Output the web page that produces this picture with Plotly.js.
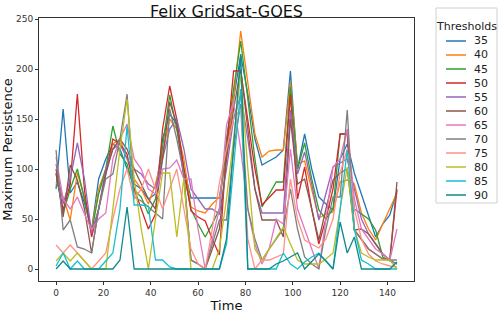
<!DOCTYPE html>
<html>
<head>
<meta charset="utf-8">
<script src="https://cdn.plot.ly/plotly-3.0.1.min.js"></script>
<style>html,body{margin:0;padding:0;background:#fff;}#chart{width:500px;height:313px;}</style>
</head>
<body>
<div id="chart"></div>
<script>
const time = [0,3,6,9,12,15,18,21,24,27,30,33,36,39,42,45,48,51,54,57,60,63,66,69,72,75,78,81,84,87,90,93,96,99,102,105,108,111,114,117,120,123,126,129,132,135,138,141,144];

const thresholds = ['35','40','45','50','55','60','65','70','75','80','85','90'];
const colors = ['#1f77b4','#ff7f0e','#2ca02c','#d62728','#9467bd','#8c564b','#e377c2','#7f7f7f','#ff9187','#bcbd22','#17becf','#108a8a'];

const s35 = [80,160,76,87,66,39,90,110,125,120,100,85,80,70,75,130,155,145,100,71,71,71,71,71,120,170,214,175,130,104,108,112,119,198,100,135,100,72,65,59,110,125,96,75,55,32,45,54,78];
const s40 = [87,72,49,96,72,39,80,100,125,130,110,90,80,65,85,115,150,140,110,62,58,56,65,72,110,170,238,185,135,112,118,119,119,187,105,108,80,51,55,57,87,89,85,56,40,29,45,60,76];
const s45 = [95,56,80,100,70,36,75,100,143,115,105,79,72,55,70,120,174,140,95,60,45,32,45,60,130,180,228,170,110,62,75,87,87,182,100,126,90,59,50,60,135,135,60,55,50,39,12,8,5];
const s50 = [96,59,85,175,79,32,60,95,130,125,115,80,60,40,55,140,183,150,100,58,52,48,30,14,120,198,198,150,100,64,72,79,79,174,70,102,60,25,50,80,135,135,39,30,20,15,10,9,80];
const s55 = [105,65,90,126,90,36,60,100,120,125,110,100,95,85,80,110,140,150,120,80,70,60,60,55,100,150,174,130,80,56,56,56,56,159,95,117,85,49,75,102,106,110,80,50,35,25,15,9,5];
const s60 = [100,52,104,89,60,16,60,95,120,130,120,100,85,70,60,110,167,145,90,9,5,0,20,40,110,160,200,140,80,49,49,49,32,150,85,90,60,29,60,89,96,100,39,40,35,25,15,9,87];
const s65 = [112,70,60,72,55,39,50,56,110,130,145,110,100,80,75,100,101,109,90,90,40,0,30,60,144,167,120,60,25,5,20,50,45,120,60,40,20,0,50,102,110,140,70,40,30,20,15,9,40];
const s70 = [119,39,49,22,20,16,60,90,95,130,175,72,68,62,56,50,160,130,95,9,5,0,25,49,49,120,165,60,30,9,20,30,40,80,40,12,5,0,40,72,72,159,39,30,20,15,10,9,9];
const s75 = [24,16,24,16,8,0,8,16,50,80,100,70,80,100,80,60,80,100,60,20,5,0,40,86,120,150,160,30,0,9,9,12,15,90,50,29,25,21,30,50,96,120,60,30,15,8,5,3,2];
const s80 = [8,16,8,16,8,0,0,0,60,120,170,90,40,0,50,96,96,32,91,0,0,0,0,20,70,130,195,100,20,9,20,32,42,25,9,5,5,5,10,16,60,102,40,16,12,9,9,9,0];
const s85 = [3,16,0,8,0,0,0,8,16,60,143,64,64,63,9,9,2,0,0,0,0,0,0,0,25,100,180,0,0,0,0,0,16,5,0,7,12,16,8,0,60,119,40,9,5,0,0,0,0];
const s90 = [0,8,0,0,0,0,0,0,0,9,62,0,0,0,0,0,0,0,0,0,0,0,0,0,30,120,215,0,0,0,0,5,8,12,16,0,8,15,8,0,47,16,32,0,0,0,0,0,7];

const series = [s35,s40,s45,s50,s55,s60,s65,s70,s75,s80,s85,s90];

const traces = series.map((ys, k) => ({
  x: time, y: ys, type: 'scatter', mode: 'lines', name: thresholds[k],
  line: {color: colors[k], width: 1.3}, showlegend: false
}));

// plot area: l=39, r=86, t=18, b=32 -> 375 x 263
const PW = 375, PH = 263, L = 39, T = 18;
const px2x = p => (p - L) / PW;
const py2y = p => (T + PH - p) / PH;

const shapes = [];
const annotations = [];
shapes.push({type:'rect', xref:'paper', yref:'paper', x0:px2x(436), x1:px2x(497), y0:py2y(203), y1:py2y(8),
  line:{color:'#d0d0d0', width:1}, fillcolor:'rgba(255,255,255,0.8)', layer:'above'});
annotations.push({xref:'paper', yref:'paper', x:px2x(466.5), y:py2y(26), text:'Thresholds', showarrow:false,
  xanchor:'center', yanchor:'middle', font:{family:'DejaVu Sans', size:11, color:'#222'}});
thresholds.forEach((t, k) => {
  const yy = 41 + 14 * k;
  shapes.push({type:'line', xref:'paper', yref:'paper', x0:px2x(446), x1:px2x(466), y0:py2y(yy), y1:py2y(yy),
    line:{color:colors[k], width:1.5}, layer:'above'});
  annotations.push({xref:'paper', yref:'paper', x:px2x(472), y:py2y(yy), text:t, showarrow:false,
    xanchor:'left', yanchor:'middle', font:{family:'DejaVu Sans', size:11, color:'#222'}});
});

const layout = {
  width: 500, height: 313,
  margin: {l: L, r: 86, t: T, b: 32},
  paper_bgcolor: '#fff', plot_bgcolor: '#fff',
  font: {family: 'DejaVu Sans', color: '#222', size: 9},
  title: {text: 'Felix GridSat-GOES', font: {family: 'DejaVu Sans', size: 16, color: '#111'},
    x: 0.5, xref: 'paper', y: 1 - 11/313, yref: 'container', yanchor: 'middle'},
  xaxis: {range: [-7.2, 151.2], tickvals: [0,20,40,60,80,100,120,140], ticks: 'outside', ticklen: 3,
    tickcolor: '#333', showline: true, linecolor: '#333', linewidth: 1, mirror: true, showgrid: false, zeroline: false,
    tickfont: {size: 9, color: '#333'},
    title: {text: 'Time', font: {family: 'DejaVu Sans', size: 13, color: '#111'}, standoff: 0}},
  yaxis: {range: [-12, 251], tickvals: [0,50,100,150,200,250], ticks: 'outside', ticklen: 3,
    tickcolor: '#333', showline: true, linecolor: '#333', linewidth: 1, mirror: true, showgrid: false, zeroline: false,
    tickfont: {size: 9, color: '#333'},
    title: {text: 'Maximum Persistence', font: {family: 'DejaVu Sans', size: 13, color: '#111'}, standoff: 0}},
  shapes: shapes,
  annotations: annotations
};

Plotly.newPlot('chart', traces, layout, {staticPlot: true, displayModeBar: false});
</script>
</body>
</html>
